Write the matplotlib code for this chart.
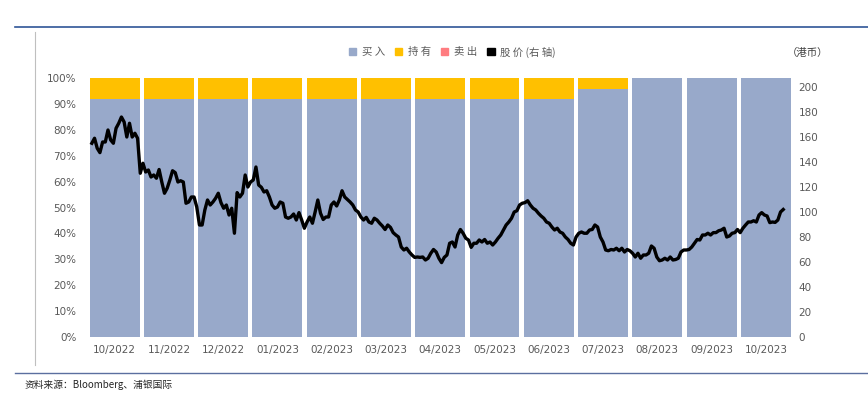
import numpy as np
import matplotlib
matplotlib.use('Agg')
import matplotlib.pyplot as plt
from matplotlib.patches import Patch
from matplotlib.lines import Line2D

months = ['10/2022', '11/2022', '12/2022', '01/2023', '02/2023', '03/2023', '04/2023',
          '05/2023', '06/2023', '07/2023', '08/2023', '09/2023', '10/2023']
buy = [91.7, 91.7, 91.7, 92.0, 92.0, 91.7, 91.7, 91.7, 91.7, 95.8, 100, 100, 100]  # 买入 %
hold = [100 - b for b in buy]  # 持有 %
sell = [0] * 13  # 卖出 %

# 股价 (港币), daily-ish closes
price = [155, 159, 151, 147.5, 156, 156, 165.6, 157.6, 155, 167, 171, 176, 172, 160, 171, 160,
         163, 159, 131, 139, 132, 133.6, 128, 129.6, 127, 134, 124, 115, 119, 125.6, 133, 131.5,
         124, 125, 124, 107, 108, 112, 112, 104, 89.6, 89.6, 101.6, 109.6, 105.6, 108, 111, 115,
         107.5, 103, 105.6, 97.6, 103, 83, 115.5, 112, 115, 129.6, 120, 124, 125.6, 136, 121.6,
         119.8, 116, 117, 112, 105.6, 103, 104,
         108, 107, 96, 95, 96, 98.4, 93.6, 99.5, 93.6, 87, 92, 96, 91, 100, 109.6, 99, 94, 96, 96,
         105.6, 108, 104.8, 109.6, 117, 112, 110, 108, 105.6, 101.6, 100, 96, 93.6, 95.7, 92, 91,
         95, 93.6, 91, 88.8, 86, 89.6, 87.7, 83.5, 81.6, 80, 72, 69.6, 71, 68, 65.6, 63.7, 64,
         63.7, 64, 61.6, 63, 67, 70, 68, 63, 59.5, 63.7,
         65.6, 75, 76, 72, 81.6, 86, 83, 79, 77.6, 71.7, 75, 75, 77.6, 76, 78, 75, 76, 73.6, 76,
         79, 81.6, 85.6, 89.6, 92, 95, 100, 101, 105.6, 107, 107.5, 109, 105.6, 103, 101.6, 99,
         96.8, 95, 92, 91, 88, 85.6, 87, 84, 83, 80, 78, 75, 73.6, 80, 83, 84, 83, 83, 85.6, 86,
         89.6, 88, 80, 76, 69.6, 69,
         70, 69.6, 71, 69, 71, 68, 70, 69, 67, 64, 67, 63, 65.6, 65.6, 67, 72.8, 71, 64, 61, 61.6,
         63, 61.6, 64, 61.6, 62, 63, 68, 69.6, 69.6, 70, 72, 75, 78, 77.6, 81.6, 81.6, 83, 81.6,
         83.5, 83.5, 85, 85.6, 87, 80, 80.8, 83, 83.5, 86, 83.5, 87, 89.6, 92, 92, 93, 92, 97.6,
         99.5, 97.6, 96.8, 91.5, 92, 91.7, 93.6, 100, 102]

c_buy = '#98A9CA'
c_hold = '#FFC000'
c_sell = '#FF7C80'
gray = '#595959'

fig = plt.figure(figsize=(8.68, 3.95), dpi=100)
ax = fig.add_axes([87.5 / 868, 58 / 395, (793 - 87.5) / 868, 259 / 395])

x = np.arange(len(months))
ax.bar(x, buy, width=0.92, color=c_buy, zorder=2)
ax.bar(x, hold, width=0.92, bottom=buy, color=c_hold, zorder=2)
ax.bar(x, sell, width=0.92, bottom=100, color=c_sell, zorder=2)
ax.set_xlim(-0.5, 12.5)
ax.set_ylim(0, 100)
ax.set_yticks(np.arange(0, 101, 10))
ax.set_yticklabels([f'{v}%' for v in range(0, 101, 10)])
ax.set_xticks(x)
ax.set_xticklabels(months)
ax.tick_params(axis='both', length=0, colors=gray, labelsize=7.5)
ax.tick_params(axis='x', pad=6)
ax.tick_params(axis='y', pad=8)
for s in ax.spines.values():
    s.set_visible(False)

ax2 = ax.twinx()
px = np.linspace(-0.42, 12.32, len(price))
ax2.plot(px, price, color='black', lw=2.4, zorder=3)
ax2.set_ylim(0, 259 / 1.25)
ax2.set_yticks(np.arange(0, 201, 20))
ax2.tick_params(axis='y', length=0, colors=gray, labelsize=7.5, pad=4)
for s in ax2.spines.values():
    s.set_visible(False)

cjk = ['Noto Sans CJK SC', 'DejaVu Sans']
handles = [Patch(color=c_buy), Patch(color=c_hold), Patch(color=c_sell), Patch(color='black')]
labels = ['买 入', '持 有', '卖 出', '股 价 (右 轴)']
fig.legend(handles, labels, loc='center', bbox_to_anchor=(0.521, 1 - 52 / 395), ncol=4,
           frameon=False, handlelength=0.7, handleheight=0.7, handletextpad=0.5,
           columnspacing=1.0, prop={'family': cjk, 'size': 7.5}, labelcolor=gray)
fig.text(787 / 868, 1 - 53 / 395, '（港币）', family=cjk, fontsize=7.5, color='#404040', va='center')

# frame lines of the report page
fig.add_artist(Line2D([15 / 868, 1], [1 - 27 / 395] * 2, color='#2F5597', lw=1.2))
fig.add_artist(Line2D([35 / 868] * 2, [1 - 32 / 395, 1 - 365 / 395], color='#BFBFBF', lw=0.8))
fig.add_artist(Line2D([15 / 868, 1], [1 - 373 / 395] * 2, color='#5B6F9F', lw=1.0))
fig.text(25 / 868, 1 - 385 / 395, '资料来源：Bloomberg、浦银国际', family=cjk, fontsize=7,
         color='#262626', va='center')

fig.savefig('out.png', dpi=100)
